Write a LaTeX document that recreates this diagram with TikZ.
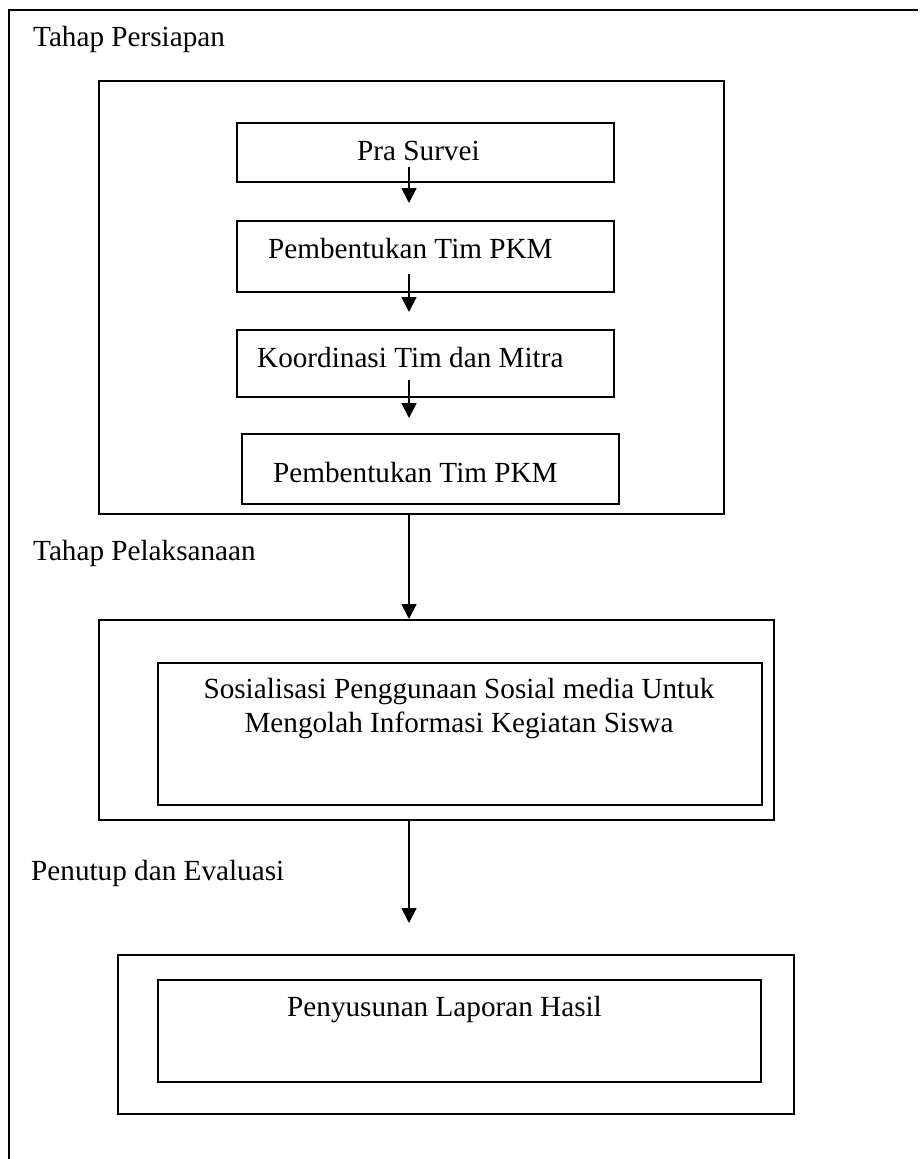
\documentclass[tikz,border=0pt]{standalone}
\usepackage{fontspec}
\setmainfont{Liberation Serif}
\usetikzlibrary{arrows.meta}
\begin{document}
\begin{tikzpicture}[x=1pt,y=-1pt,
  box/.style={draw, line width=1.8pt, inner sep=0pt, anchor=north west},
  lbl/.style={anchor=base west, inner sep=0pt, font=\fontsize{29.2}{34}\selectfont},
  arr/.style={line width=1.8pt, -{Triangle[width=15pt,length=15pt]}},
  frame/.style={line width=1.8pt}]
\useasboundingbox (0,0) rectangle (919,1159);
% outer frame
\coordinate (ftr) at (918,10);
\coordinate (ftl) at (9,10);
\coordinate (fbl) at (9,1159);
\draw[frame] (ftr) -- (ftl) -- (fbl);
% section labels
\node[lbl] (l1) at (33,46) {Tahap Persiapan};
\node[lbl] (l2) at (33,560) {Tahap Pelaksanaan};
\node[lbl] (l3) at (31,880) {Penutup dan Evaluasi};
% persiapan
\node[box, minimum width=625pt, minimum height=433pt] (persiapan) at (98,80) {};
\node[box, minimum width=377pt, minimum height=59pt] (b1) at (236,122) {};
\node[box, minimum width=377pt, minimum height=71pt] (b2) at (236,220) {};
\node[box, minimum width=377pt, minimum height=67pt] (b3) at (236,329) {};
\node[box, minimum width=377pt, minimum height=70pt] (b4) at (241,433) {};
\node[lbl] (t1) at (357,160) {Pra Survei};
\node[lbl] (t2) at (268,258) {Pembentukan Tim PKM};
\node[lbl] (t3) at (257,367) {Koordinasi Tim dan Mitra};
\node[lbl] (t4) at (273,482) {Pembentukan Tim PKM};
\coordinate (a1s) at (409,167); \coordinate (a1e) at (409,203);
\coordinate (a2s) at (409,274); \coordinate (a2e) at (409,312);
\coordinate (a3s) at (409,380); \coordinate (a3e) at (409,418);
\draw[arr] (a1s) -- (a1e);
\draw[arr] (a2s) -- (a2e);
\draw[arr] (a3s) -- (a3e);
% pelaksanaan
\node[box, minimum width=675pt, minimum height=200pt] (pel) at (98,619) {};
\node[box, minimum width=604pt, minimum height=142pt] (sos) at (157,662) {};
\node[anchor=north, inner sep=0pt, align=center, font=\fontsize{29.2}{34}\selectfont] (t5) at (459,678)
  {Sosialisasi Penggunaan Sosial media Untuk\\Mengolah Informasi Kegiatan Siswa};
\coordinate (cx) at (409,0);
\draw[arr] (persiapan.south -| cx) -- (pel.north -| cx);
% penutup
\node[box, minimum width=676pt, minimum height=159pt] (pen) at (117,954) {};
\node[box, minimum width=603pt, minimum height=102pt] (lap) at (157,979) {};
\node[lbl] (t6) at (287,1016) {Penyusunan Laporan Hasil};
\coordinate (a5e) at (409,923);
\draw[arr] (pel.south -| cx) -- (a5e);
\end{tikzpicture}
\end{document}
